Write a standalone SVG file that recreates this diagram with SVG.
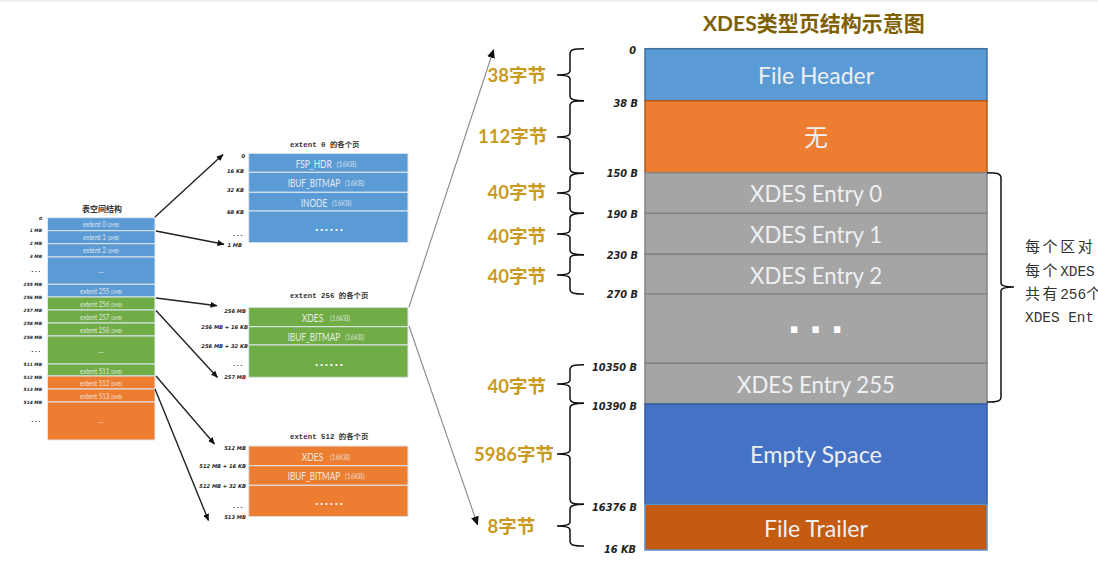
<svg xmlns="http://www.w3.org/2000/svg" width="1098" height="563" viewBox="0 0 1098 563">
<style>
text{font-family:"Lato","Noto Sans CJK SC",sans-serif}
.bl{fill:#5b9bd5}.gr{fill:#70ad47}.or{fill:#ed7d31}
.sm rect{stroke:#dfe8ef;stroke-width:1}
.big rect{stroke-width:1.5}
.r{fill:#f4f4f4;font-size:8px;text-anchor:middle;opacity:.85}
.r tspan{font-size:5.5px}
.m{fill:#f4f4f4;font-size:12px;opacity:.9}
.k{fill:#f4f4f4;font-size:7.5px;opacity:.75}
.d{fill:#fff;font-size:12px;font-weight:700;letter-spacing:1.6px;font-family:"Liberation Sans",sans-serif}
.o{font-family:"DejaVu Sans",sans-serif;font-weight:700;font-style:italic;text-anchor:end;fill:#222}
.o1{font-size:4.4px}.o2{font-size:5.2px}.o3{font-size:9.8px}
.e{letter-spacing:1.4px;font-size:5.5px}
.t{font-family:"Liberation Mono","Noto Sans CJK SC",monospace;font-weight:700;font-size:7.4px;fill:#333}
.b{fill:#eef0f2;font-size:24px;text-anchor:middle}
.g{fill:#c99a1e;font-size:18.500px;font-weight:700}
.x{font-family:"Liberation Mono","Noto Sans CJK SC",monospace;font-size:14.4px;fill:#333}
.c{font-family:"Noto Sans CJK SC",sans-serif;font-size:15px;letter-spacing:2.6px}
.br{fill:none;stroke:#111;stroke-width:1.5}
.a{stroke:#222;stroke-width:1.4;fill:none;marker-end:url(#ah)}
.a2{stroke:#888;stroke-width:1.1;fill:none;marker-end:url(#ah2)}
</style>
<defs>
<marker id="ah" markerUnits="userSpaceOnUse" markerWidth="7" markerHeight="6" refX="6.5" refY="3" orient="auto"><path d="M0 0L7 3L0 6Z" fill="#111"/></marker>
<marker id="ah2" markerUnits="userSpaceOnUse" markerWidth="9" markerHeight="8" refX="8" refY="4" orient="auto"><path d="M0 0L9 4L0 8Z" fill="#111"/></marker>
</defs>
<rect x="0" y="0" width="1098" height="2" fill="#eeeeee"/>

<g id="tablespace" class="sm">
<text class="t" x="102" y="212" text-anchor="middle" style="font-family:'Noto Sans CJK SC',sans-serif;font-size:8px">表空间结构</text>
<rect class="bl" x="47.500" y="217.700" width="107.500" height="13"/>
<rect class="bl" x="47.500" y="230.700" width="107.500" height="13"/>
<rect class="bl" x="47.500" y="243.700" width="107.500" height="13.300"/>
<rect class="bl" x="47.500" y="257" width="107.500" height="27.300"/>
<rect class="bl" x="47.500" y="284.300" width="107.500" height="12.700"/>
<rect class="gr" x="47.500" y="297" width="107.500" height="13"/>
<rect class="gr" x="47.500" y="310" width="107.500" height="13"/>
<rect class="gr" x="47.500" y="323" width="107.500" height="13"/>
<rect class="gr" x="47.500" y="336" width="107.500" height="28"/>
<rect class="gr" x="47.500" y="364" width="107.500" height="12"/>
<rect class="or" x="47.500" y="376" width="107.500" height="13"/>
<rect class="or" x="47.500" y="389" width="107.500" height="13"/>
<rect class="or" x="47.500" y="402" width="107.500" height="38"/>
<text class="r" x="101" y="227.300" textLength="36" lengthAdjust="spacingAndGlyphs">extent 0 <tspan>(1MB)</tspan></text>
<text class="r" x="101" y="240.300" textLength="36" lengthAdjust="spacingAndGlyphs">extent 1 <tspan>(1MB)</tspan></text>
<text class="r" x="101" y="253.300" textLength="36" lengthAdjust="spacingAndGlyphs">extent 2 <tspan>(1MB)</tspan></text>
<text class="r" x="101" y="273">...</text>
<text class="r" x="101" y="294.300" textLength="42" lengthAdjust="spacingAndGlyphs">extent 255 <tspan>(1MB)</tspan></text>
<text class="r" x="101" y="307" textLength="42" lengthAdjust="spacingAndGlyphs">extent 256 <tspan>(1MB)</tspan></text>
<text class="r" x="101" y="320" textLength="42" lengthAdjust="spacingAndGlyphs">extent 257 <tspan>(1MB)</tspan></text>
<text class="r" x="101" y="333" textLength="42" lengthAdjust="spacingAndGlyphs">extent 258 <tspan>(1MB)</tspan></text>
<text class="r" x="101" y="353">...</text>
<text class="r" x="101" y="374" textLength="42" lengthAdjust="spacingAndGlyphs">extent 511 <tspan>(1MB)</tspan></text>
<text class="r" x="101" y="386" textLength="42" lengthAdjust="spacingAndGlyphs">extent 512 <tspan>(1MB)</tspan></text>
<text class="r" x="101" y="399" textLength="42" lengthAdjust="spacingAndGlyphs">extent 513 <tspan>(1MB)</tspan></text>
<text class="r" x="101" y="423">...</text>
<text class="o o1" x="42" y="219.500">0</text>
<text class="o o1" x="42" y="232">1 MB</text>
<text class="o o1" x="42" y="245">2 MB</text>
<text class="o o1" x="42" y="258.300">3 MB</text>
<text class="o e" x="42" y="271.500">...</text>
<text class="o o1" x="42" y="286">255 MB</text>
<text class="o o1" x="42" y="299">256 MB</text>
<text class="o o1" x="42" y="311.700">257 MB</text>
<text class="o o1" x="42" y="325">258 MB</text>
<text class="o o1" x="42" y="339">259 MB</text>
<text class="o e" x="42" y="352">...</text>
<text class="o o1" x="42" y="366.300">511 MB</text>
<text class="o o1" x="42" y="379">512 MB</text>
<text class="o o1" x="42" y="391.300">513 MB</text>
<text class="o o1" x="42" y="404.300">514 MB</text>
<text class="o e" x="42" y="422">...</text>
</g>

<g id="extent0" class="sm">
<text class="t" x="290" y="147">extent 0 的各个页</text>
<rect class="bl" x="248.700" y="153.300" width="159.300" height="19"/>
<rect class="bl" x="248.700" y="172.300" width="159.300" height="20"/>
<rect class="bl" x="248.700" y="192.300" width="159.300" height="18.700"/>
<rect class="bl" x="248.700" y="211" width="159.300" height="31.700"/>
<text class="m" x="295.700" y="167.500" textLength="36" lengthAdjust="spacingAndGlyphs">FSP_HDR</text><text class="k" x="336.700" y="166.500" textLength="19.500" lengthAdjust="spacingAndGlyphs">(16KB)</text>
<text class="m" x="287.700" y="187" textLength="52.500" lengthAdjust="spacingAndGlyphs">IBUF_BITMAP</text><text class="k" x="345" y="186" textLength="19.500" lengthAdjust="spacingAndGlyphs">(16KB)</text>
<text class="m" x="300.700" y="207" textLength="26.600" lengthAdjust="spacingAndGlyphs">INODE</text><text class="k" x="332" y="206" textLength="19.500" lengthAdjust="spacingAndGlyphs">(16KB)</text>
<text class="d" x="315" y="231">......</text>
<text class="o o2" x="245" y="158">0</text>
<text class="o o2" x="244" y="173">16 KB</text>
<text class="o o2" x="244" y="192">32 KB</text>
<text class="o o2" x="244" y="214">68 KB</text>
<text class="o e" x="244" y="236">...</text>
<text class="o o2" x="242" y="246.500">1 MB</text>
</g>

<g id="extent256" class="sm">
<text class="t" x="290" y="298">extent 256 的各个页</text>
<rect class="gr" x="248.700" y="307.300" width="159.300" height="19.400"/>
<rect class="gr" x="248.700" y="326.700" width="159.300" height="18.300"/>
<rect class="gr" x="248.700" y="345" width="159.300" height="32.300"/>
<text class="m" x="301.700" y="321.700" textLength="21.600" lengthAdjust="spacingAndGlyphs">XDES</text><text class="k" x="330" y="320.700" textLength="20" lengthAdjust="spacingAndGlyphs">(16KB)</text>
<text class="m" x="287.700" y="341" textLength="52.500" lengthAdjust="spacingAndGlyphs">IBUF_BITMAP</text><text class="k" x="345" y="340" textLength="19.500" lengthAdjust="spacingAndGlyphs">(16KB)</text>
<text class="d" x="315" y="365.500">......</text>
<text class="o o2" x="246" y="313">256 MB</text>
<text class="o o2" x="248" y="329">256 MB + 16 KB</text>
<text class="o o2" x="248" y="348">256 MB + 32 KB</text>
<text class="o e" x="244" y="366">...</text>
<text class="o o2" x="246" y="379">257 MB</text>
</g>

<g id="extent512" class="sm">
<text class="t" x="290" y="439">extent 512 的各个页</text>
<rect class="or" x="248.700" y="446" width="159.300" height="19.700"/>
<rect class="or" x="248.700" y="465.700" width="159.300" height="19.600"/>
<rect class="or" x="248.700" y="485.300" width="159.300" height="31.400"/>
<text class="m" x="301.700" y="460.500" textLength="21.600" lengthAdjust="spacingAndGlyphs">XDES</text><text class="k" x="330" y="459.500" textLength="20" lengthAdjust="spacingAndGlyphs">(16KB)</text>
<text class="m" x="287.700" y="480" textLength="52.500" lengthAdjust="spacingAndGlyphs">IBUF_BITMAP</text><text class="k" x="345" y="479" textLength="19.500" lengthAdjust="spacingAndGlyphs">(16KB)</text>
<text class="d" x="315" y="505">......</text>
<text class="o o2" x="246" y="450">512 MB</text>
<text class="o o2" x="246" y="468">512 MB + 16 KB</text>
<text class="o o2" x="246" y="488">512 MB + 32 KB</text>
<text class="o e" x="244" y="508">...</text>
<text class="o o2" x="246" y="519">513 MB</text>
</g>

<g id="xdes-page" class="big">
<text x="703" y="31" style="font-size:21px;font-weight:700;fill:#7f6000">XDES类型页结构示意图</text>
<rect x="645" y="48.700" width="342" height="52" fill="#5b9bd5" stroke="#41719c"/>
<rect x="645" y="100.700" width="342" height="72" fill="#ed7d31" stroke="#ae5a21"/>
<rect x="645" y="172.700" width="342" height="40.600" fill="#a5a5a5" stroke="#858585"/>
<rect x="645" y="213.300" width="342" height="41" fill="#a5a5a5" stroke="#858585"/>
<rect x="645" y="254.300" width="342" height="39.700" fill="#a5a5a5" stroke="#858585"/>
<rect x="645" y="294" width="342" height="69.300" fill="#a5a5a5" stroke="#858585"/>
<rect x="645" y="363.300" width="342" height="40.700" fill="#a5a5a5" stroke="#858585"/>
<rect x="645" y="404" width="342" height="100.300" fill="#4472c4" stroke="#315a9e"/>
<rect x="645" y="504.300" width="342" height="45.700" fill="#c55a11" stroke="#5b8fc9"/>
<text class="b" x="816" y="84" textLength="116" lengthAdjust="spacingAndGlyphs">File Header</text>
<text class="b" x="816" y="146">无</text>
<text class="b" x="816" y="202" textLength="132" lengthAdjust="spacingAndGlyphs">XDES Entry 0</text>
<text class="b" x="816" y="243" textLength="132" lengthAdjust="spacingAndGlyphs">XDES Entry 1</text>
<text class="b" x="816" y="284" textLength="132" lengthAdjust="spacingAndGlyphs">XDES Entry 2</text>
<text x="788" y="333" style="font-family:'Liberation Sans',sans-serif;font-weight:700;font-size:44px;letter-spacing:9.300px;fill:#fff">...</text>
<text class="b" x="816" y="393" textLength="158" lengthAdjust="spacingAndGlyphs">XDES Entry 255</text>
<text class="b" x="816" y="463" textLength="132" lengthAdjust="spacingAndGlyphs">Empty Space</text>
<text class="b" x="816" y="537" textLength="104" lengthAdjust="spacingAndGlyphs">File Trailer</text>
<text class="o o3" x="636" y="54">0</text>
<text class="o o3" x="638" y="107">38 B</text>
<text class="o o3" x="638" y="177">150 B</text>
<text class="o o3" x="638" y="218">190 B</text>
<text class="o o3" x="638" y="259">230 B</text>
<text class="o o3" x="638" y="298">270 B</text>
<text class="o o3" x="637" y="371">10350 B</text>
<text class="o o3" x="637" y="410">10390 B</text>
<text class="o o3" x="637" y="511">16376 B</text>
<text class="o o3" x="636" y="553">16 KB</text>
<text class="g" x="487.500" y="82">38字节</text>
<text class="g" x="478" y="143">112字节</text>
<text class="g" x="487.500" y="199">40字节</text>
<text class="g" x="487.500" y="243">40字节</text>
<text class="g" x="487.500" y="283">40字节</text>
<text class="g" x="487.500" y="393">40字节</text>
<text class="g" x="474" y="461">5986字节</text>
<text class="g" x="487.500" y="533">8字节</text>
</g>

<g id="note">
<text class="x" x="1025" y="252"><tspan class="c">每个区对</tspan></text>
<text class="x" x="1025" y="276"><tspan class="c">每个</tspan>XDES</text>
<text class="x" x="1025" y="299"><tspan class="c">共有</tspan>256<tspan class="c">个</tspan></text>
<text class="x" x="1025" y="322">XDES Ent</text>
</g>

<g id="connectors">
<path class="a" d="M155 217L223 154.500"/>
<path class="a" d="M156 231L224 244.300"/>
<path class="a" d="M156 298L217 305.700"/>
<path class="a" d="M156 310.500L217.500 377.500"/>
<path class="a" d="M156 376L214.500 444"/>
<path class="a" d="M155 389L208.500 520.500"/>
<path class="a2" d="M409 307L493.500 50"/>
<path class="a2" d="M409 326L477.500 524.500"/>
<path class="br" d="M584 48.700C575 48.700 570 49 570 54V71C570 74 566 75 557 75C566 75 570 76 570 79V95.700C570 100 575 100.700 584 100.700"/>
<path class="br" d="M584 100.700C575 100.700 570 101 570 106V133C570 136 566 137 557 137C566 137 570 138 570 141V168.300C570 173 575 173.300 584 173.300"/>
<path class="br" d="M584 173.300C575 173.300 570 174 570 178V189C570 192 566 193 557 193C566 193 570 194 570 197V208.300C570 213 575 213.300 584 213.300"/>
<path class="br" d="M584 213.300C575 213.300 570 214 570 218V230C570 233 566 234 557 234C566 234 570 235 570 238V249.700C570 254 575 254.700 584 254.700"/>
<path class="br" d="M584 254.700C575 254.700 570 255 570 259V271C570 274 566 275 557 275C566 275 570 276 570 279V289C570 293.500 575 294 584 294"/>
<path class="br" d="M584 364.700C575 364.700 570 365 570 370V380C570 383 566 384 557 384C566 384 570 385 570 388V398.300C570 403 575 403.300 584 403.300"/>
<path class="br" d="M584 403.300C575 403.300 570 404 570 408V450C570 453 566 454 557 454C566 454 570 455 570 458V499.300C570 504 575 504.300 584 504.300"/>
<path class="br" d="M584 504.300C575 504.300 570 505 570 509V522C570 525 566 526 557 526C566 526 570 527 570 530V541C570 545.500 575 546 584 546"/>
<path class="br" d="M987 172.700C996 172.700 1001 173 1001 178V283C1001 286 1005 287 1014 287C1005 287 1001 288 1001 291V397C1001 401.500 996 402 987 402"/>
</g>
</svg>
